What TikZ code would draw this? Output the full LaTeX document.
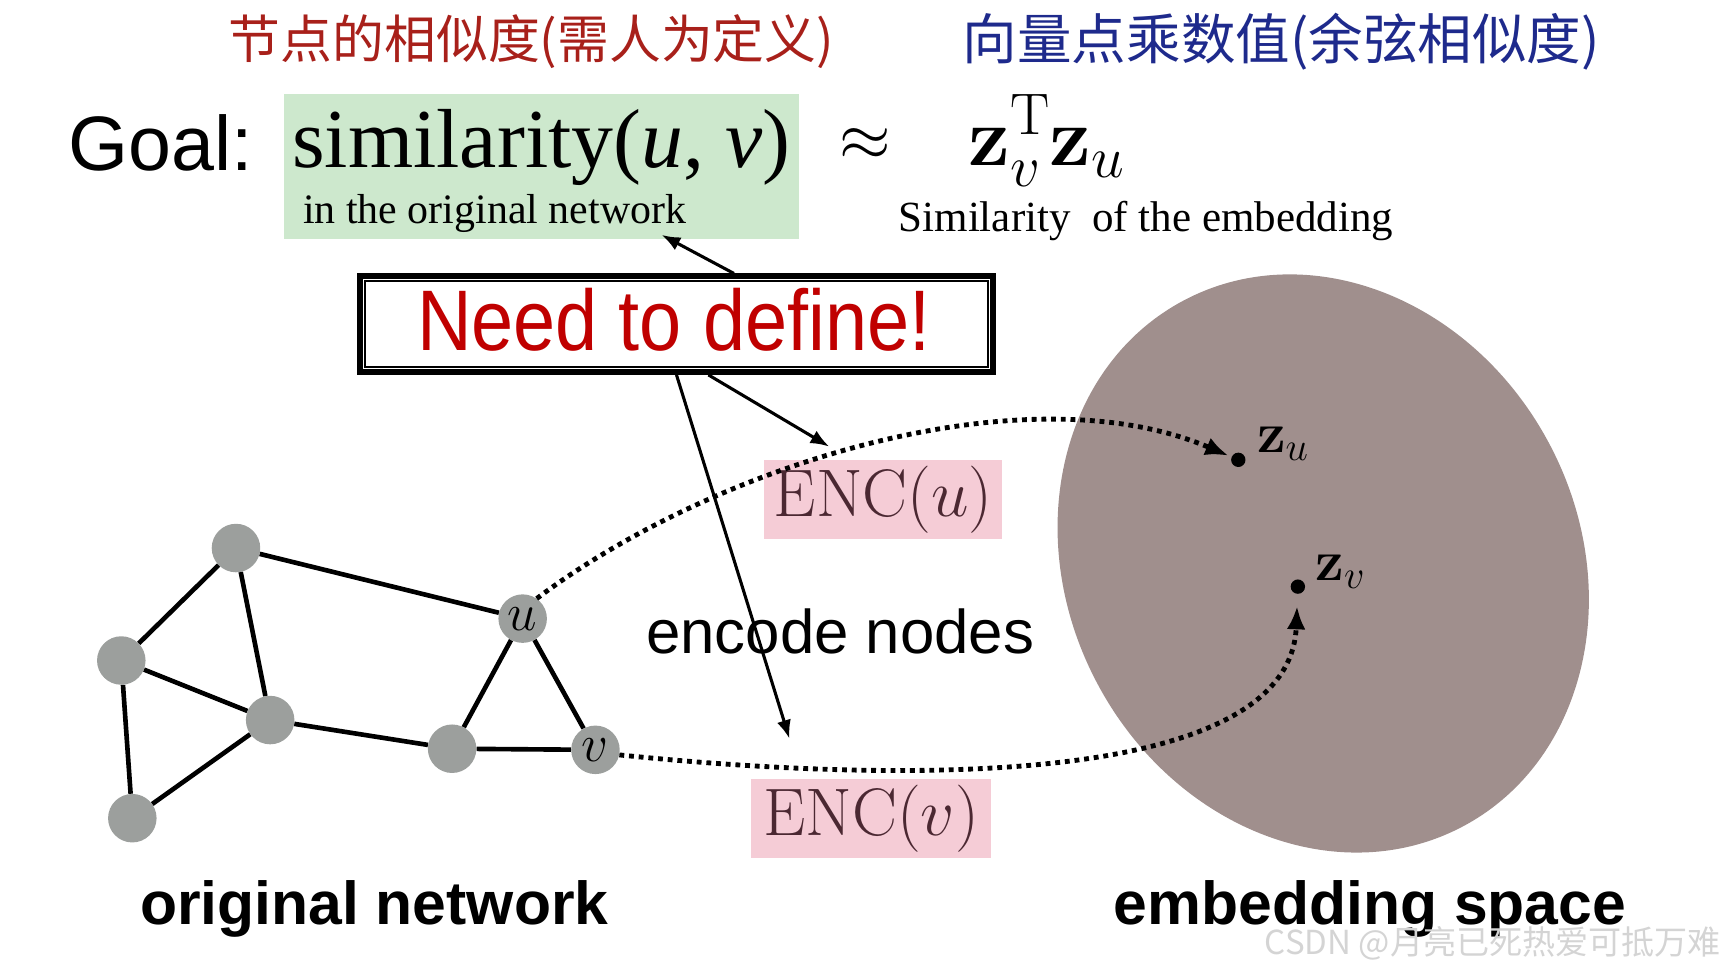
\RequirePackage{fix-cm}
\documentclass[tikz,border=0pt]{standalone}
\usepackage[no-math]{fontspec}
\usepackage{graphicx}
\setmainfont{Liberation Sans}
\newfontfamily\serif{Liberation Serif}
\newfontfamily\cjk{Noto Sans CJK SC}
\usetikzlibrary{arrows.meta,calc}
\definecolor{cnred}{HTML}{A8201A}
\definecolor{cnblue}{HTML}{1E2A8C}
\definecolor{simgreen}{HTML}{CDE8CD}
\definecolor{needred}{HTML}{C00000}
\definecolor{pinkbg}{HTML}{F5CCD6}
\definecolor{enccol}{HTML}{4B2832}
\definecolor{nodegray}{HTML}{9C9F9D}
\definecolor{embcol}{HTML}{A08F8D}
\definecolor{wmark}{HTML}{D4D4D4}
\begin{document}
\begin{tikzpicture}[x=1pt,y=-1pt,
  txt/.style={inner sep=0pt, outer sep=0pt},
  gnode/.style={circle, fill=nodegray, minimum size=44pt, inner sep=0pt, font=\fontsize{48}{48}\selectfont},
  edge/.style={line width=4.2pt},
  arr/.style={line width=2.8pt, -{Latex[length=17pt,width=13pt]}},
  dotarr/.style={line width=4.4pt, dash pattern=on 4.4pt off 4.4pt, -{Latex[length=21pt,width=17pt]}},
  pinkbox/.style={fill=pinkbg, minimum width=216pt, minimum height=72pt, inner sep=0pt, text=enccol, font=\fontsize{61}{63}\selectfont},
  dotpt/.style={circle, fill=black, minimum size=13pt, inner sep=0pt},
]
\useasboundingbox (0,0) rectangle (1568,881);

% handwritten notes
\node[txt, text=cnred, font=\cjk\fontsize{47}{49}\selectfont] (cnA) at (482,38) {节点的相似度(需人为定义)};
\node[txt, text=cnblue, font=\cjk\fontsize{49.5}{52}\selectfont] (cnB) at (1162,38) {向量点乘数值(余弦相似度)};

% goal line
\node[txt, anchor=base west, font=\fontsize{70}{72}\selectfont] (goal) at (62,155) {Goal:};
\node[fill=simgreen, minimum width=467pt, minimum height=132pt, inner sep=0pt] (simbox) at (491.5,151) {};
\node[txt, anchor=base west, font=\serif\fontsize{76}{78}\selectfont] (sim) at (265,152) {similarity(\textit{u}, \textit{v})};
\node[txt, anchor=base west, font=\serif\fontsize{38}{40}\selectfont] (orig) at (275,203) {in the original network};
\node[txt, font=\fontsize{60}{60}\selectfont] (approx) at (785,131) {$\approx$};
\node[txt, anchor=base west, font=\fontsize{76}{78}\selectfont] (zz) at (878,150) {$\mathbf{z}_{v}^{\mathrm{T}}\mathbf{z}_{u}$};
\node[txt, anchor=base west, font=\serif\fontsize{39}{41}\selectfont] (embsim) at (815,210) {Similarity\ \ of the embedding};

% embedding space
\fill[embcol, rotate around={-62:(1200,511)}] (1200,511) ellipse [x radius=270, y radius=232];
\node[dotpt] (zu) at (1123,417) {};
\node[txt, anchor=base west, font=\fontsize{52}{54}\selectfont] (zul) at (1140,410) {$\mathbf{z}_{u}$};
\node[dotpt] (zv) at (1177,532) {};
\node[txt, anchor=base west, font=\fontsize{52}{54}\selectfont] (zvl) at (1193,526) {$\mathbf{z}_{v}$};

% need to define box
\node[draw, line width=5pt, fill=white, minimum width=574pt, minimum height=87pt, inner sep=0pt] (ntd) at (613.5,294) {};
\draw[line width=1.3pt] ([shift={(7,7)}]ntd.north west) rectangle ([shift={(-7,-7)}]ntd.south east);
\node[txt, text=needred, font=\fontsize{78}{80}\selectfont] (ntdtext) at (611,290) {\scalebox{0.88}[1]{Need to define!}};

% encoders
\node[pinkbox] (encu) at (801,453) {$\mathrm{ENC}(u)$};
\node[pinkbox, minimum width=218pt] (encv) at (790,742) {$\mathrm{ENC}(v)$};
\node[txt, anchor=base west, font=\fontsize{56}{58}\selectfont] (enc) at (586,593) {encode nodes};

% arrows from the box
\coordinate (netw) at (600,213);
\coordinate (tipU) at (752,405);
\coordinate (tipV) at (716,670);
\draw[arr] ($(ntd.north west)!0.59!(ntd.north east)$) -- (netw);
\draw[arr] ($(ntd.south west)!0.55!(ntd.south east)$) -- (tipU);
\draw[arr] (ntd.south) -- (tipV);

% graph
\node[gnode] (A) at (214,497) {};
\node[gnode] (B) at (110,599) {};
\node[gnode] (C) at (245,653) {};
\node[gnode] (D) at (120,742) {};
\node[gnode] (E) at (410,679) {};
\node[gnode] (u) at (474,561) {$u$};
\node[gnode] (v) at (540,680) {$v$};
\draw[edge] (A) -- (B);
\draw[edge] (A) -- (C);
\draw[edge] (A) -- (u);
\draw[edge] (B) -- (C);
\draw[edge] (B) -- (D);
\draw[edge] (C) -- (D);
\draw[edge] (C) -- (E);
\draw[edge] (E) -- (u);
\draw[edge] (E) -- (v);
\draw[edge] (u) -- (v);

% dotted mapping arrows
\draw[dotarr, shorten >=3pt] (u.55) .. controls (650,420) and (930,335) .. (zu);
\draw[dotarr, shorten >=11pt] (v.-12) .. controls (860,715) and (1170,705) .. (zv);

% captions
\node[txt, anchor=base west, font=\bfseries\fontsize{55}{57}\selectfont] (capA) at (127,838) {original network};
\node[txt, anchor=base west, font=\bfseries\fontsize{55}{57}\selectfont] (capB) at (1010,838) {embedding space};
\node[txt, anchor=base west, text=wmark, font=\cjk\fontsize{30}{32}\selectfont] (wm) at (1147,866) {CSDN @月亮已死热爱可抵万难};
\end{tikzpicture}
\end{document}
